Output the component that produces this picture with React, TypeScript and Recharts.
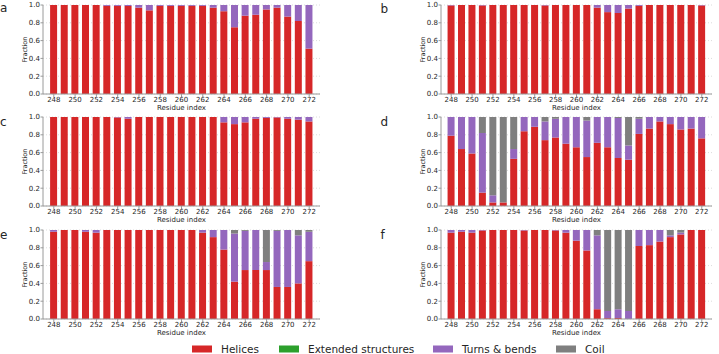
import React from 'react';
import { BarChart, Bar, XAxis, YAxis, CartesianGrid, Label } from 'recharts';

const residues = [248, 249, 250, 251, 252, 253, 254, 255, 256, 257, 258, 259, 260, 261, 262, 263, 264, 265, 266, 267, 268, 269, 270, 271, 272];
const yTicks = [0, 0.2, 0.4, 0.6, 0.8, 1.0];
const seriesNames = ['Helices', 'Extended structures', 'Turns & bends', 'Coil'];
const zeros = [0, 0, 0, 0, 0, 0, 0, 0, 0, 0, 0, 0, 0, 0, 0, 0, 0, 0, 0, 0, 0, 0, 0, 0, 0];

// Panel a
const aHelices = [1.0, 1.0, 1.0, 1.0, 1.0, 0.99, 0.99, 0.99, 0.97, 0.94, 0.99, 0.99, 0.99, 0.99, 0.99, 0.97, 0.93, 0.75, 0.88, 0.89, 0.95, 0.97, 0.87, 0.82, 0.51];
const aTurns = [0, 0, 0, 0, 0, 0.01, 0.01, 0.01, 0.03, 0.06, 0.01, 0.01, 0.01, 0.01, 0.01, 0.03, 0.07, 0.25, 0.12, 0.11, 0.05, 0.03, 0.13, 0.18, 0.49];
const aCoil = [0, 0, 0, 0, 0, 0, 0, 0, 0, 0, 0, 0, 0, 0, 0, 0, 0, 0, 0, 0, 0, 0, 0, 0, 0];

// Panel b
const bHelices = [0.995, 1.0, 1.0, 0.995, 1.0, 1.0, 1.0, 1.0, 1.0, 0.995, 1.0, 1.0, 1.0, 1.0, 0.97, 0.92, 0.91, 0.96, 0.99, 1.0, 1.0, 1.0, 1.0, 1.0, 0.995];
const bTurns = [0.005, 0, 0, 0.005, 0, 0, 0, 0, 0, 0.005, 0, 0, 0, 0, 0.03, 0.08, 0.09, 0.04, 0.01, 0, 0, 0, 0, 0, 0.005];
const bCoil = [0, 0, 0, 0, 0, 0, 0, 0, 0, 0, 0, 0, 0, 0, 0, 0, 0, 0, 0, 0, 0, 0, 0, 0, 0];

// Panel c
const cHelices = [1.0, 1.0, 1.0, 1.0, 1.0, 1.0, 0.995, 0.98, 1.0, 1.0, 1.0, 1.0, 1.0, 1.0, 1.0, 1.0, 0.94, 0.92, 0.94, 0.98, 0.99, 0.995, 0.98, 0.97, 0.95];
const cTurns = [0, 0, 0, 0, 0, 0, 0.005, 0.02, 0, 0, 0, 0, 0, 0, 0, 0, 0.06, 0.08, 0.06, 0.02, 0.01, 0.005, 0.02, 0.03, 0.05];
const cCoil = [0, 0, 0, 0, 0, 0, 0, 0, 0, 0, 0, 0, 0, 0, 0, 0, 0, 0, 0, 0, 0, 0, 0, 0, 0];

// Panel d
const dHelices = [0.79, 0.64, 0.59, 0.15, 0.04, 0.04, 0.53, 0.84, 0.89, 0.74, 0.77, 0.70, 0.66, 0.55, 0.71, 0.66, 0.54, 0.52, 0.81, 0.87, 0.95, 0.92, 0.86, 0.87, 0.76];
const dTurns = [0.21, 0.36, 0.41, 0.67, 0.08, 0.0, 0.11, 0.16, 0.11, 0.21, 0.21, 0.30, 0.34, 0.41, 0.29, 0.34, 0.45, 0.16, 0.17, 0.13, 0.05, 0.08, 0.14, 0.13, 0.24];
const dCoil = [0, 0, 0, 0.18, 0.88, 0.96, 0.36, 0, 0, 0.05, 0.02, 0, 0, 0.04, 0, 0, 0.01, 0.32, 0.02, 0, 0, 0, 0, 0, 0];

// Panel e
const eHelices = [0.98, 1.0, 1.0, 0.98, 0.97, 1.0, 1.0, 1.0, 1.0, 1.0, 1.0, 1.0, 1.0, 1.0, 0.97, 0.92, 0.78, 0.42, 0.55, 0.55, 0.55, 0.36, 0.36, 0.40, 0.65];
const eTurns = [0.02, 0, 0, 0.02, 0.03, 0, 0, 0, 0, 0, 0, 0, 0, 0, 0.03, 0.08, 0.22, 0.54, 0.44, 0.45, 0.09, 0.63, 0.64, 0.54, 0.33];
const eCoil = [0, 0, 0, 0, 0, 0, 0, 0, 0, 0, 0, 0, 0, 0, 0, 0, 0, 0.04, 0.01, 0, 0.36, 0.01, 0, 0.06, 0.02];

// Panel f
const fHelices = [0.97, 0.98, 0.97, 0.995, 1.0, 1.0, 1.0, 0.995, 1.0, 1.0, 0.995, 0.97, 0.88, 0.77, 0.11, 0.01, 0.01, 0.0, 0.82, 0.83, 0.87, 0.92, 0.95, 1.0, 1.0];
const fTurns = [0.03, 0.02, 0.03, 0.005, 0, 0, 0, 0.005, 0, 0, 0.005, 0.03, 0.12, 0.23, 0.83, 0.08, 0.10, 0.09, 0.18, 0.17, 0.13, 0.02, 0.02, 0, 0];
const fCoil = [0, 0, 0, 0, 0, 0, 0, 0, 0, 0, 0, 0, 0, 0, 0.06, 0.91, 0.89, 0.91, 0, 0, 0, 0.06, 0.03, 0, 0];

const COLORS = ['#d62728', '#2ca02c', '#9467bd', '#7f7f7f'];
const FONT = '"DejaVu Sans", sans-serif';
const SPINE = '#9a9a9a';
const TEXT = '#262626';

type PanelProps = {
  left: number;
  top: number;
  right: boolean;
  helices: number[];
  turns: number[];
  coil: number[];
};

function Panel({ left, top, right, helices, turns, coil }: PanelProps) {
  const data = residues.map((r, i) => ({
    res: r,
    helices: helices[i],
    extended: zeros[i],
    turns: turns[i],
    coil: coil[i],
  }));
  const width = right ? 359 : 330;
  const margin = right ? { top: 4, right: 7, left: 38, bottom: 0 } : { top: 4, right: 10, left: 0, bottom: 0 };
  const pad = right ? 5 : 5.5;
  return (
    <div style={{ position: 'absolute', left, top: top - 4 }}>
      <BarChart width={width} height={113} data={data} margin={margin} barCategoryGap="15%">
        <CartesianGrid vertical={false} strokeDasharray="1 2" stroke="#dcdcdc" />
        <XAxis
          dataKey="res"
          type="category"
          interval={1}
          height={20}
          padding={{ left: pad, right: pad }}
          tickSize={3}
          tickMargin={0.5}
          tick={{ fontSize: 7, fill: TEXT, fontFamily: FONT }}
          tickLine={{ stroke: SPINE }}
          axisLine={{ stroke: SPINE }}
        >
          <Label value="Residue index" position="insideBottom" offset={4} fill={TEXT} fontSize={7} fontFamily={FONT} />
        </XAxis>
        <XAxis
          xAxisId="top"
          dataKey="res"
          orientation="top"
          height={0}
          tick={false}
          tickLine={false}
          axisLine={{ stroke: SPINE }}
        />
        <YAxis
          domain={[0, 1]}
          ticks={yTicks}
          interval={0}
          width={43}
          tickSize={2.5}
          tickMargin={0.5}
          tickFormatter={(v: number) => v.toFixed(1)}
          tick={{ fontSize: 7, fill: TEXT, fontFamily: FONT }}
          tickLine={{ stroke: SPINE }}
          axisLine={{ stroke: SPINE }}
        >
          <Label value="Fraction" angle={-90} position="center" dx={3} fill={TEXT} fontSize={6.5} fontFamily={FONT} />
        </YAxis>
        <YAxis
          yAxisId="r"
          orientation="right"
          domain={[0, 1]}
          width={0}
          tick={false}
          tickLine={false}
          axisLine={{ stroke: SPINE }}
        />
        <Bar dataKey="helices" name={seriesNames[0]} stackId="s" fill={COLORS[0]} isAnimationActive={false} />
        <Bar dataKey="extended" name={seriesNames[1]} stackId="s" fill={COLORS[1]} isAnimationActive={false} />
        <Bar dataKey="turns" name={seriesNames[2]} stackId="s" fill={COLORS[2]} isAnimationActive={false} />
        <Bar dataKey="coil" name={seriesNames[3]} stackId="s" fill={COLORS[3]} isAnimationActive={false} />
      </BarChart>
    </div>
  );
}

const letters = [
  { t: 'a', x: 0, y: 12.3 },
  { t: 'b', x: 380.5, y: 12.7 },
  { t: 'c', x: 0, y: 125.5 },
  { t: 'd', x: 380.5, y: 126 },
  { t: 'e', x: 0, y: 239 },
  { t: 'f', x: 380.5, y: 238.5 },
];

const legendX = [192, 279, 433, 556];

export default function App() {
  return (
    <div style={{ position: 'absolute', left: 0, top: 0, width: 719, height: 354, background: '#fff', overflow: 'hidden' }}>
      <Panel left={0} top={4.7} right={false} helices={aHelices} turns={aTurns} coil={aCoil} />
      <Panel left={360} top={4.7} right={true} helices={bHelices} turns={bTurns} coil={bCoil} />
      <Panel left={0} top={116.7} right={false} helices={cHelices} turns={cTurns} coil={cCoil} />
      <Panel left={360} top={116.7} right={true} helices={dHelices} turns={dTurns} coil={dCoil} />
      <Panel left={0} top={230.3} right={false} helices={eHelices} turns={eTurns} coil={eCoil} />
      <Panel left={360} top={230.3} right={true} helices={fHelices} turns={fTurns} coil={fCoil} />
      <svg width={719} height={354} style={{ position: 'absolute', left: 0, top: 0, pointerEvents: 'none' }}>
        {letters.map((l) => (
          <text key={l.t} x={l.x} y={l.y} fontSize={12} fontFamily={FONT} fill={TEXT}>
            {l.t}
          </text>
        ))}
        {seriesNames.map((n, i) => (
          <g key={n}>
            <rect x={legendX[i]} y={345.5} width={20} height={7} fill={COLORS[i]} />
            <text x={legendX[i] + 29} y={352.7} fontSize={10.5} fontFamily={FONT} fill={TEXT}>
              {n}
            </text>
          </g>
        ))}
      </svg>
    </div>
  );
}
